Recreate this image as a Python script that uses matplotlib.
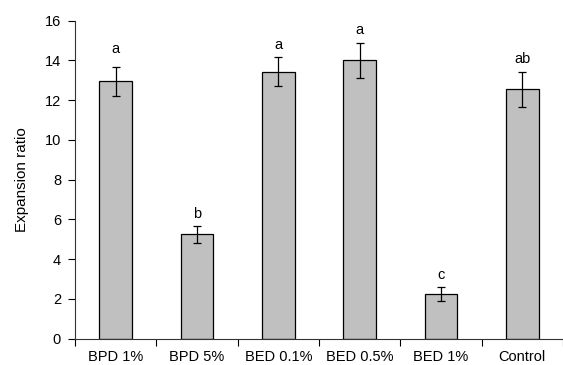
import matplotlib.pyplot as plt
import numpy as np

plt.rcParams['font.family'] = ['Liberation Sans', 'DejaVu Sans']

groups = ['BPD 1%', 'BPD 5%', 'BED 0.1%', 'BED 0.5%', 'BED 1%', 'Control']
ratio = [12.95, 5.25, 13.43, 14.0, 2.26, 12.55]
ratio_err = [0.74, 0.43, 0.72, 0.88, 0.35, 0.88]
letters = ['a', 'b', 'a', 'a', 'c', 'ab']
letter_y = [14.6, 6.27, 14.78, 15.53, 3.2, 14.06]

fig = plt.figure(figsize=(5.63, 3.65), dpi=100)
ax = fig.add_axes([75 / 563, (365 - 338.7) / 365, 1 - 75 / 563, (338.7 - 20.7) / 365])

x = np.arange(len(groups))
ax.bar(x, ratio, width=0.4, color='#c0c0c0', edgecolor='black', linewidth=0.9)
ax.errorbar(x, ratio, yerr=ratio_err, fmt='none', ecolor='black',
            elinewidth=0.9, capsize=3, capthick=0.9)
for i in range(len(groups)):
    ax.text(x[i], letter_y[i], letters[i], ha='center', va='center', fontsize=10.5)

ax.set_xlim(-0.5, len(groups) - 0.5)
ax.set_ylim(0, 16)
ax.set_yticks(range(0, 17, 2))
ax.set_xticks(np.arange(-0.5, len(groups), 1.0))
ax.set_xticklabels([])
ax.set_xticks(x, minor=True)
ax.set_xticklabels(groups, minor=True)
ax.tick_params(axis='x', which='major', direction='out', length=5, width=0.8)
ax.tick_params(axis='x', which='minor', length=0, pad=8, labelsize=10.5)
ax.tick_params(axis='y', direction='out', length=5, width=0.8, labelsize=10.5, pad=5)

ax.spines['top'].set_visible(False)
ax.spines['right'].set_visible(False)
ax.spines['left'].set_color('#333333')
ax.spines['bottom'].set_color('#333333')
ax.set_ylabel('Expansion ratio', fontsize=11)
ax.yaxis.set_label_coords(-0.095, 0.5)

fig.savefig('out.png', dpi=100)
